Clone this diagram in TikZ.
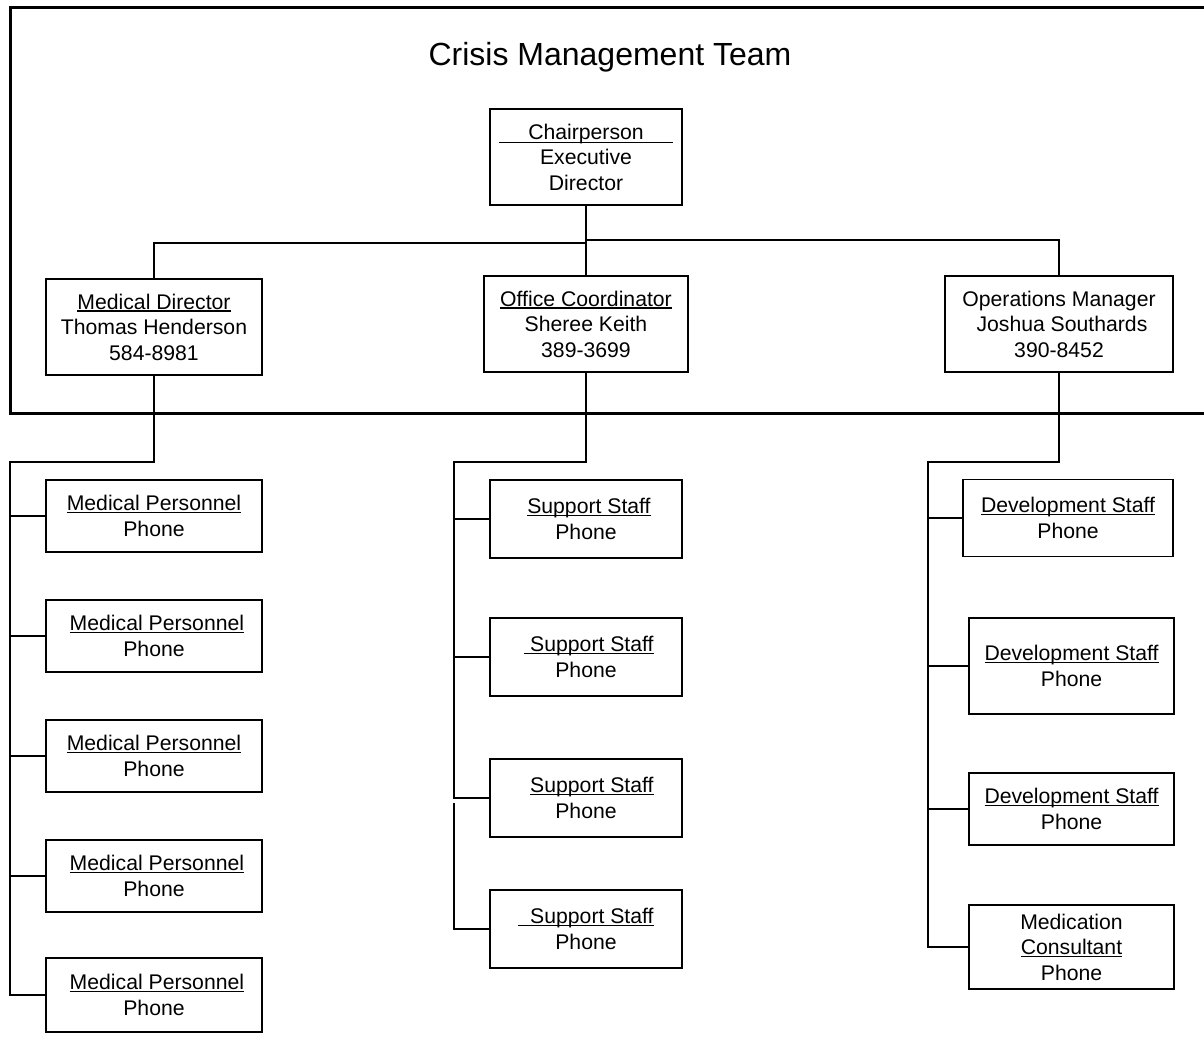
\documentclass[tikz,border=0pt]{standalone}
\usepackage{fontspec}
\setmainfont{Liberation Sans}
\newsavebox\ulbx
\newcommand\ulx[1]{\sbox\ulbx{#1}\rlap{\smash{\rule[-2.5pt]{\wd\ulbx}{1.4pt}}}\usebox\ulbx}
\newcommand\boxfont{\fontsize{21.2}{25.5}\selectfont}
\newcommand\titlefont{\fontsize{32}{38}\selectfont}
\newcommand\myspc{\hspace*{5.9pt}}
\begin{document}
\begin{tikzpicture}[x=1pt,y=-1pt,
  box/.style={draw=black, line width=1.8pt, inner sep=0pt, align=center, font=\boxfont, text=black},
  conn/.style={draw=black, line width=1.9pt},
  outerframe/.style={draw=black, line width=3pt}]
\useasboundingbox (0,0) rectangle (1204,1036);
\fill[white] (0,0) rectangle (1204,1036);

% outer frame (right side runs off the page)
\draw[outerframe] (1215,7) -- (10,7) -- (10,413) -- (1215,413);

\node[font=\titlefont, anchor=base, inner sep=0pt] (title) at (610,65) {Crisis Management Team};

% top level
\node[box, minimum width=192pt, minimum height=96pt] (chair) at (586,157)
  {\smash{\rlap{\rule[-4.3pt]{174pt}{1.8pt}}}\makebox[174pt]{Chairperson}\\Executive\\Director};
\node[box, minimum width=216pt, minimum height=96pt] (md) at (154,327)
  {\ulx{Medical Director}\\Thomas Henderson\\584-8981};
\node[box, minimum width=204pt, minimum height=96pt] (oc) at (586,324)
  {\ulx{Office Coordinator}\\Sheree Keith\\389-3699};
\node[box, minimum width=228pt, minimum height=96pt] (om) at (1059,324)
  {Operations Manager\\\myspc Joshua Southards\\390-8452};

% medical column
\node[box, minimum width=216pt, minimum height=72pt] (mp1) at (154,516) {\ulx{Medical Personnel}\\Phone};
\node[box, minimum width=216pt, minimum height=72pt] (mp2) at (154,636) {\myspc\ulx{Medical Personnel}\\Phone};
\node[box, minimum width=216pt, minimum height=72pt] (mp3) at (154,756) {\ulx{Medical Personnel}\\Phone};
\node[box, minimum width=216pt, minimum height=72pt] (mp4) at (154,876) {\myspc\ulx{Medical Personnel}\\Phone};
\node[box, minimum width=216pt, minimum height=74pt] (mp5) at (154,995) {\myspc\ulx{Medical Personnel}\\Phone};

% support column
\node[box, minimum width=192pt, minimum height=78pt] (ss1) at (586,519) {\myspc\ulx{Support Staff}\\Phone};
\node[box, minimum width=192pt, minimum height=78pt] (ss2) at (586,657) {\myspc\ulx{\myspc Support Staff}\\Phone};
\node[box, minimum width=192pt, minimum height=78pt] (ss3) at (586,798) {\myspc\myspc\ulx{Support Staff}\\Phone};
\node[box, minimum width=192pt, minimum height=78pt] (ss4) at (586,929) {\ulx{\myspc\myspc Support Staff}\\Phone};

% development column
\node[box, minimum width=210pt, minimum height=77pt] (dv1) at (1068,518) {\ulx{Development Staff}\\Phone};
\node[box, minimum width=205pt, minimum height=96pt] (dv2) at (1071.5,666) {\ulx{Development Staff}\\Phone};
\node[box, minimum width=205pt, minimum height=72pt] (dv3) at (1071.5,809) {\ulx{Development Staff}\\Phone};
\node[box, minimum width=205pt, minimum height=84pt] (mc) at (1071.5,947) {Medication\\\ulx{Consultant}\\Phone};

% upper connectors
\coordinate (jl) at (586,243);
\coordinate (jr) at (586,240);
\draw[conn] (chair.south) -- (oc.north);
\draw[conn] (jl) -| (md.north);
\draw[conn] (jr) -| (om.north);

% left tree
\coordinate (lt) at (10,462);
\draw[conn] (md.south) |- (lt) |- (mp5.west);
\foreach \n in {mp1,mp2,mp3,mp4} \draw[conn] (lt |- \n.west) -- (\n.west);

% middle tree
\coordinate (mt) at (454,462);
\coordinate (mg) at (454,803);
\draw[conn] (oc.south) |- (mt) |- (ss3.west);
\draw[conn] (mg) |- (ss4.west);
\foreach \n in {ss1,ss2} \draw[conn] (mt |- \n.west) -- (\n.west);

% right tree
\coordinate (rt) at (928,462);
\draw[conn] (om.south) |- (rt) |- (mc.west);
\foreach \n in {dv1,dv2,dv3} \draw[conn] (rt |- \n.west) -- (\n.west);
\end{tikzpicture}
\end{document}
